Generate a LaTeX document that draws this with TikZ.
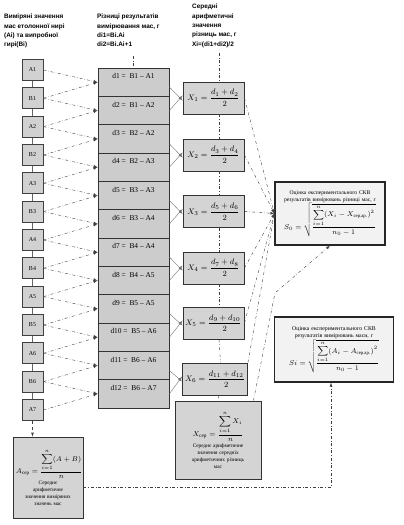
\documentclass[tikz,border=0pt]{standalone}
\usepackage{amsmath}
\usepackage{fontspec}
\setmainfont{Liberation Serif}
\setsansfont{Liberation Sans}
\newcommand{\srd}{\text{сер}}
\newcommand{\srar}{\text{сер.ар.}}

\begin{document}
\begin{tikzpicture}[x=1pt,y=-1pt,>=latex,
  mnode/.style={draw=black!75,fill=black!18,line width=0.9pt,minimum width=21pt,minimum height=21pt,inner sep=0pt,font=\fontsize{6}{7}\selectfont},
  dnode/.style={draw=black!80,fill=black!20,line width=0.9pt,minimum width=71pt,minimum height=28.33pt,inner sep=0pt,text height=5pt,text depth=12pt,font=\fontsize{7.4}{8}\selectfont},
  xnode/.style={draw=black!80,fill=black!17,line width=0.9pt,minimum width=61pt,minimum height=32pt,inner sep=0pt,font=\fontsize{8}{9}\selectfont},
  snode/.style={draw=black!85,fill=black!5,line width=1.2pt,inner sep=2pt,align=center},
  mnbox/.style={draw=black!80,fill=black!17,line width=0.9pt,inner sep=2pt,align=center,font=\fontsize{5.3}{7}\selectfont},
  hnode/.style={anchor=north west,align=left,inner sep=0pt,font=\sffamily\bfseries\fontsize{6.4}{9.3}\selectfont},
  conn/.style={dashdotted,black!75,thin},
  cline/.style={black!60,thin}]
    \useasboundingbox (0,0) rectangle (404,525);

    % headers
    \node[hnode] (hA) at (4,14) {Виміряні значення\\мас етолонної нирі\\(Аі) та випробної\\гирі(Ві)};
    \node[hnode] (hd) at (97,14) {Різниці результатів\\вимірювання мас, г\\di1=Bi.Ai\\di2=Bi.Ai+1};
    \node[hnode] (hX) at (192,4) {Середні\\арифметичні\\значення\\різниць мас, г\\Xi=(di1+di2)/2};
    \coordinate (dtop) at (133.5,56);
    \coordinate (xtop) at (219,53);

    % measured masses
    \node[mnode] (A1) at (32.5,70) {A1};
    \node[mnode] (B1) at (32.5,98.3) {B1};
    \node[mnode] (A2) at (32.5,126.6) {A2};
    \node[mnode] (B2) at (32.5,155) {B2};
    \node[mnode] (A3) at (32.5,183.3) {A3};
    \node[mnode] (B3) at (32.5,211.6) {B3};
    \node[mnode] (A4) at (32.5,240) {A4};
    \node[mnode] (B4) at (32.5,268.3) {B4};
    \node[mnode] (A5) at (32.5,296.6) {A5};
    \node[mnode] (B5) at (32.5,325) {B5};
    \node[mnode] (A6) at (32.5,353.3) {A6};
    \node[mnode] (B6) at (32.5,381.6) {B6};
    \node[mnode] (A7) at (32.5,410) {A7};

    % differences
    \node[dnode] (d1) at (133.5,82.2) {d1 = \ B1 -- A1};
    \node[dnode] (d2) at (133.5,110.5) {d2 = \ B1 -- A2};
    \node[dnode] (d3) at (133.5,138.9) {d3 = \ B2 -- A2};
    \node[dnode] (d4) at (133.5,167.2) {d4 = \ B2 -- A3};
    \node[dnode] (d5) at (133.5,195.5) {d5 = \ B3 -- A3};
    \node[dnode] (d6) at (133.5,223.9) {d6 = \ B3 -- A4};
    \node[dnode] (d7) at (133.5,252.2) {d7 = \ B4 -- A4};
    \node[dnode] (d8) at (133.5,280.5) {d8 = \ B4 -- A5};
    \node[dnode] (d9) at (133.5,308.8) {d9 = \ B5 -- A5};
    \node[dnode] (d10) at (133.5,337.2) {d10 = \ B5 -- A6};
    \node[dnode] (d11) at (133.5,365.5) {d11 = \ B6 -- A6};
    \node[dnode] (d12) at (133.5,393.8) {d12 = \ B6 -- A7};

    % mean differences
    \node[xnode] (X1) at (213.5,98) {$X_1=\dfrac{d_1+d_2}{2}$};
    \node[xnode] (X2) at (213.5,155) {$X_2=\dfrac{d_3+d_4}{2}$};
    \node[xnode] (X3) at (213.5,211.5) {$X_3=\dfrac{d_5+d_6}{2}$};
    \node[xnode] (X4) at (213.5,268) {$X_4=\dfrac{d_7+d_8}{2}$};
    \node[xnode] (X5) at (213.5,323) {$X_5=\dfrac{d_9+d_{10}}{2}$};
    \node[xnode,minimum width=65pt] (X6) at (215,379) {$X_6=\dfrac{d_{11}+d_{12}}{2}$};

    % averages
    \node[mnbox,minimum width=86pt,minimum height=78pt,text width=80pt] (Xsr) at (218,440)
      {\mbox{\fontsize{7.5}{9}\selectfont$X_{\srd}=\dfrac{\displaystyle\sum_{i=1}^{n}X_i}{n}$}\\[1pt]
       Середнє арифметичне\\значення середніх\\арифметичних різниць\\мас};
    \node[mnbox,minimum width=70pt,minimum height=81pt,text width=64pt] (Asr) at (48,477.5)
      {\mbox{\fontsize{7}{9}\selectfont$A_{\srd}=\dfrac{\displaystyle\sum_{i=1}^{n}(A+B)}{n}$}\\[1pt]
       Середнє\\арифметичне\\значення виміряних\\значень мас};

    % standard deviations
    \node[snode,minimum width=110pt,minimum height=63pt,text width=106pt,font=\fontsize{5.6}{6.6}\selectfont] (S0) at (330,213.5)
      {Оцінка експериментального СКВ\\результатів вимірювань різниці мас, г\\
       \mbox{\fontsize{6.8}{9}\selectfont$S_0=\sqrt{\dfrac{\displaystyle\sum_{i=1}^{n}(X_i-X_{\srar})^2}{n_0-1}}$}};
    \node[snode,minimum width=119pt,minimum height=65pt,text width=115pt,font=\fontsize{5.8}{6.8}\selectfont] (Si) at (334,349.5)
      {Оцінка експериментального СКВ\\результатів вимірювань маси, г\\
       \mbox{\fontsize{6.8}{9}\selectfont$Si=\sqrt{\dfrac{\displaystyle\sum_{i=1}^{n}(A_i-A_{\srar})^2}{n_0-1}}$}};

    % column of measurements
    \draw[cline] (A1.south) -- (B1.north) (B1.south) -- (A2.north) (A2.south) -- (B2.north)
      (B2.south) -- (A3.north) (A3.south) -- (B3.north) (B3.south) -- (A4.north)
      (A4.south) -- (B4.north) (B4.south) -- (A5.north) (A5.south) -- (B5.north)
      (B5.south) -- (A6.north) (A6.south) -- (B6.north) (B6.south) -- (A7.north);
    \draw[->,dashed,black!75] (A7.south) -- (A7.south |- Asr.north);

   \begin{scope}[conn]
    \draw (dtop) -- (d1.north);
    \draw (xtop) -- ([xshift=5.5pt]X1.north);
    \draw ([xshift=5.5pt]X1.south) -- ([xshift=5.5pt]X2.north);
    \draw ([xshift=5.5pt]X2.south) -- ([xshift=5.5pt]X3.north);
    \draw ([xshift=5.5pt]X3.south) -- ([xshift=5.5pt]X4.north);
    \draw ([xshift=5.5pt]X4.south) -- ([xshift=5.5pt]X5.north);
    \draw ([xshift=5.5pt]X5.south) -- ([xshift=5.5pt]X6.north);
    \draw ([xshift=4pt]X6.south) -- (Xsr.north);
   \end{scope}

   \begin{scope}[conn]
    \draw[->] (A1.east) to (d1.west) ;
    \draw[->] (B1.east) to (d1.west) ;
    \draw[->] (B1.east) to (d2.west) ;
    \draw[->] (A2.east) to (d2.west) ;
    \draw[->] (A2.east) to (d3.west) ;
    \draw[->] (B2.east) to (d3.west) ;
    \draw[->] (B2.east) to (d4.west) ;
    \draw[->] (A3.east) to (d4.west) ;
    \draw[->] (A3.east) to (d5.west) ;
    \draw[->] (B3.east) to (d5.west) ;
    \draw[->] (B3.east) to (d6.west) ;
    \draw[->] (A4.east) to (d6.west) ;
    \draw[->] (A4.east) to (d7.west) ;
    \draw[->] (B4.east) to (d7.west) ;
    \draw[->] (B4.east) to (d8.west) ;
    \draw[->] (A5.east) to (d8.west) ;
    \draw[->] (A5.east) to (d9.west) ;
    \draw[->] (B5.east) to (d9.west) ;
    \draw[->] (B5.east) to (d10.west) ;
    \draw[->] (A6.east) to (d10.west) ;
    \draw[->] (A6.east) to (d11.west) ;
    \draw[->] (B6.east) to (d11.west) ;
    \draw[->] (B6.east) to (d12.west) ;
    \draw[->] (A7.east) to (d12.west) ;
   \end{scope}

   \begin{scope}[black!55,thin]
    \draw[->] ([yshift=-5pt]d1.east) to ([yshift=-2.5pt]X1.west) ;
    \draw[->] (d2.east) to ([yshift=2.5pt]X1.west) ;
    \draw[->] ([yshift=-5pt]d3.east) to ([yshift=-2.5pt]X2.west) ;
    \draw[->] (d4.east) to ([yshift=2.5pt]X2.west) ;
    \draw[->] ([yshift=-5pt]d5.east) to ([yshift=-2.5pt]X3.west) ;
    \draw[->] (d6.east) to ([yshift=2.5pt]X3.west) ;
    \draw[->] ([yshift=-5pt]d7.east) to ([yshift=-2.5pt]X4.west) ;
    \draw[->] (d8.east) to ([yshift=2.5pt]X4.west) ;
    \draw[->] ([yshift=-5pt]d9.east) to ([yshift=-2.5pt]X5.west) ;
    \draw[->] (d10.east) to ([yshift=2.5pt]X5.west) ;
    \draw[->] ([yshift=-5pt]d11.east) to ([yshift=-2.5pt]X6.west) ;
    \draw[->] (d12.east) to ([yshift=2.5pt]X6.west) ;
   \end{scope}

   \begin{scope}[conn]
    \draw[->] (X1.east) to (S0.west) ;
    \draw[->] (X2.east) to (S0.west) ;
    \draw[->] (X3.east) to (S0.west) ;
    \draw[->] (X4.east) to (S0.west) ;
    \draw[->] (X5.east) to (S0.west) ;
    \draw[->] (X6.north east) to (S0.west) ;
    \coordinate (kink) at (275,293);
    \draw[->] ([xshift=-8pt]Xsr.north east) -- (kink) -- (S0.south) ;
    \draw[->] ([yshift=-9.5pt]Asr.east) -| ([xshift=-3pt]Si.south) ;
   \end{scope}

\end{tikzpicture}
\end{document}
